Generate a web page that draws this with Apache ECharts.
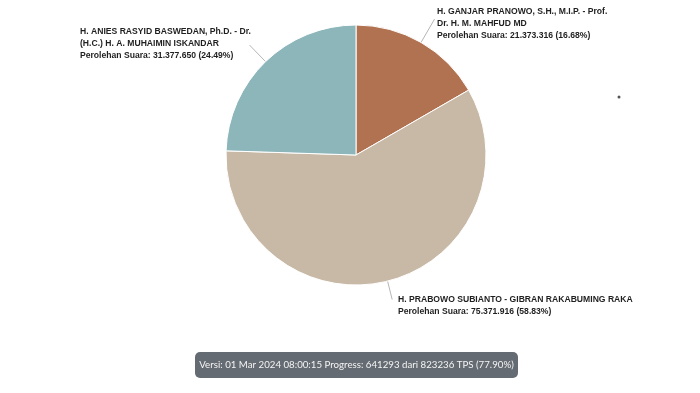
<!DOCTYPE html>
<html>
<head>
<meta charset="utf-8">
<script src="https://cdn.jsdelivr.net/npm/echarts@6/dist/echarts.min.js"></script>
<style>
html,body{margin:0;padding:0;background:#fff;}
#chart{width:700px;height:393px;}
</style>
</head>
<body>
<div id="chart"></div>
<script>
// ---- data ----
const candidateLines = [
  ['H. GANJAR PRANOWO, S.H., M.I.P. - Prof.', 'Dr. H. M. MAHFUD MD'],
  ['H. PRABOWO SUBIANTO - GIBRAN RAKABUMING RAKA'],
  ['H. ANIES RASYID BASWEDAN, Ph.D. - Dr.', '(H.C.) H. A. MUHAIMIN ISKANDAR']
];
const votes = [21373316, 75371916, 31377650];
const percents = ['16.68%', '58.83%', '24.49%'];
const colors = ['#b07250', '#c8b9a6', '#8db6bb'];
const footerText = 'Versi: 01 Mar 2024 08:00:15 Progress: 641293 dari 823236 TPS (77.90%)';

function fmt(n){ return String(n).replace(/\B(?=(\d{3})+(?!\d))/g, '.'); }

// label placement (top-left of text block) and label line lengths
const labelPos = [[437, 6], [398, 294], [80, 26]];
const lineLen = [27, 19, 23];

const chart = echarts.init(document.getElementById('chart'), null, {renderer: 'canvas'});
chart.setOption({
  animation: false,
  color: colors,
  series: [{
    type: 'pie',
    center: [356, 155],
    radius: [0, 130],
    startAngle: 90,
    clockwise: true,
    itemStyle: {borderColor: '#ffffff', borderWidth: 1},
    label: {
      show: true,
      position: 'outside',
      color: '#1f1f1f',
      fontFamily: 'Liberation Sans, Arial, sans-serif',
      fontSize: 8.6,
      fontWeight: 'bold',
      lineHeight: 11.7,
      formatter: function (p) {
        const i = p.dataIndex;
        return candidateLines[i].join('\n') + '\nPerolehan Suara: ' + fmt(votes[i]) + ' (' + percents[i] + ')';
      }
    },
    labelLine: {show: true, length: 20, length2: 0, smooth: false, lineStyle: {color: '#b5b5b5', width: 1}},
    labelLayout: function (params) {
      const i = params.dataIndex;
      const pts = params.labelLinePoints;
      let out = {x: labelPos[i][0], y: labelPos[i][1], align: 'left', verticalAlign: 'top'};
      if (pts) {
        const p0 = pts[0], p1 = pts[1];
        const dx = p1[0] - p0[0], dy = p1[1] - p0[1];
        const d = Math.sqrt(dx*dx + dy*dy) || 1;
        const e = [p0[0] + dx / d * lineLen[i], p0[1] + dy / d * lineLen[i]];
        out.labelLinePoints = [p0, e, e];
      }
      return out;
    },
    emphasis: {disabled: true},
    data: votes.map(function (v, i) { return {value: v, name: candidateLines[i].join(' ')}; })
  }],
  graphic: [
    {
      type: 'rect',
      shape: {x: 195, y: 352, width: 323, height: 26, r: 5},
      style: {fill: '#656b72'}
    },
    {
      type: 'text',
      x: 356.5, y: 365,
      style: {
        text: footerText,
        fill: '#f4f4f4',
        fontSize: 9.7,
        fontFamily: 'Lato, sans-serif',
        align: 'center',
        verticalAlign: 'middle'
      }
    },
    {
      type: 'circle',
      shape: {cx: 619, cy: 97, r: 1.5},
      style: {fill: '#555'}
    }
  ]
});
</script>
</body>
</html>
